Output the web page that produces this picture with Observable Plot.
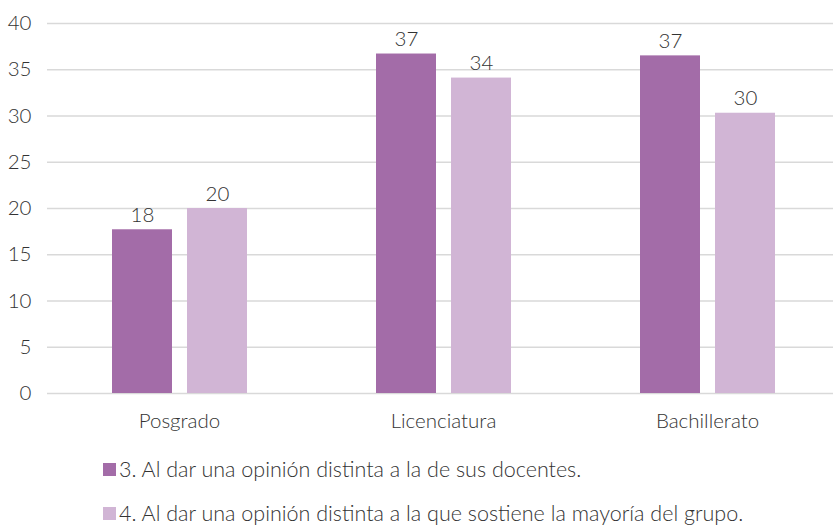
<!DOCTYPE html>
<html>
<head>
<meta charset="utf-8">
<script src="https://cdn.jsdelivr.net/npm/d3@7"></script>
<script src="https://cdn.jsdelivr.net/npm/@observablehq/plot@0.6"></script>
<style>
  html, body { margin: 0; padding: 0; background: #fff; }
  body { width: 833px; height: 526px; overflow: hidden; font-family: Lato, "Open Sans", sans-serif; font-weight: 300; color: #333; }
  #legend { position: absolute; left: 103px; top: 453px; font-size: 21.5px; }
  .item { display: flex; align-items: center; height: 32px; }
  .item + .item { margin-top: 12px; }
  .sw { width: 13px; height: 13px; margin-right: 3px; display: inline-block; }
</style>
</head>
<body>
<div id="chart"></div>
<div id="legend"></div>
<script>
const categories = ["Posgrado", "Licenciatura", "Bachillerato"];
const seriesNames = [
  "3. Al dar una opinión distinta a la de sus docentes.",
  "4. Al dar una opinión distinta a la que sostiene la mayoría del grupo."
];
const valuesDocentes = [17.7, 36.7, 36.5];
const valuesMayoria = [20.0, 34.1, 30.3];
const yTicks = [0, 5, 10, 15, 20, 25, 30, 35, 40];
const colors = ["#a36ca8", "#d1b5d5"];

const data = [];
categories.forEach((c, i) => {
  data.push({cat: c, serie: seriesNames[0], value: valuesDocentes[i]});
  data.push({cat: c, serie: seriesNames[1], value: valuesMayoria[i]});
});

const chart = Plot.plot({
  width: 833,
  height: 440,
  marginLeft: 47,
  marginRight: 0,
  marginTop: 23,
  marginBottom: 47,
  style: {fontFamily: "Lato, 'Open Sans', sans-serif", fontSize: "20.5px", fontWeight: 300, color: "#333", background: "#fff"},
  fx: {domain: categories, padding: 0, range: [47, 839], label: null},
  x: {domain: seriesNames, paddingInner: 0.2, paddingOuter: 0.86, axis: null},
  y: {domain: [0, 40], label: null},
  color: {domain: seriesNames, range: colors},
  marks: [
    Plot.gridY(yTicks, {stroke: "#d9d9d9", strokeOpacity: 1, strokeWidth: 1.4}),
    Plot.axisY({ticks: yTicks, tickSize: 0, tickPadding: 16, label: null, fill: "#333"}),
    Plot.axisFx({anchor: "bottom", tickSize: 0, tickPadding: 20, label: null, fill: "#333"}),
    Plot.barY(data, {fx: "cat", x: "serie", y: "value", fill: "serie"}),
    Plot.text(data, {fx: "cat", x: "serie", y: "value", text: d => d3.format(".0f")(d.value),
      lineAnchor: "bottom", dy: -8, fill: "#333", fontSize: 20.5})
  ]
});
document.getElementById("chart").appendChild(chart);

const legend = d3.select("#legend");
seriesNames.forEach((s, i) => {
  const it = legend.append("div").attr("class", "item");
  it.append("span").attr("class", "sw").style("background", colors[i]);
  it.append("span").text(s);
});
</script>
</body>
</html>
